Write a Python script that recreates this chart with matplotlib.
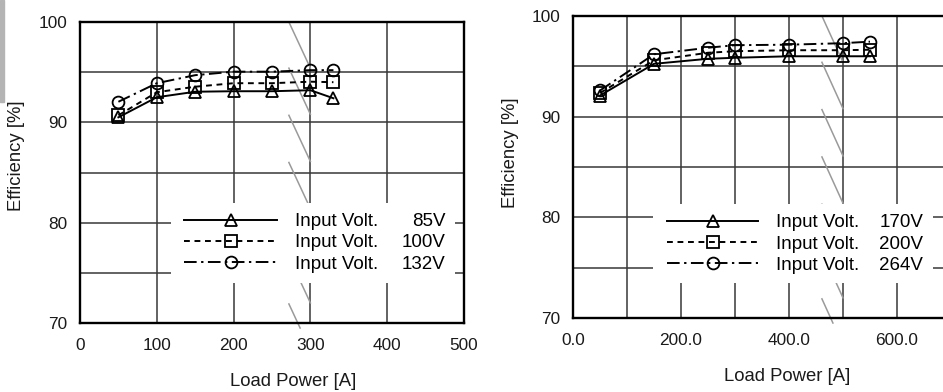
import matplotlib
matplotlib.use("Agg")
import matplotlib.pyplot as plt
from matplotlib.patches import Rectangle
from matplotlib.ticker import MultipleLocator, FormatStrFormatter

plt.rcParams['font.family'] = ['Liberation Sans', 'DejaVu Sans']

# ---------------- data ----------------
left_x = [50, 100, 150, 200, 250, 300, 330]
left_85v = [90.5, 92.5, 93.05, 93.1, 93.1, 93.2, 92.4]
left_100v = [90.7, 93.0, 93.55, 93.9, 93.9, 94.05, 94.0]
left_132v = [92.05, 93.9, 94.7, 95.05, 95.05, 95.2, 95.2]
left_volts = ["85V", "100V", "132V"]

right_x = [50, 150, 250, 300, 400, 500, 550]
right_170v = [92.1, 95.25, 95.75, 95.85, 96.0, 96.0, 96.0]
right_200v = [92.35, 95.6, 96.35, 96.5, 96.6, 96.6, 96.65]
right_264v = [92.6, 96.2, 96.85, 97.1, 97.15, 97.3, 97.45]
right_volts = ["170V", "200V", "264V"]

legend_label = "Input Volt."
y_ticks = [70, 80, 90, 100]
left_xticks = [0, 100, 200, 300, 400, 500]
right_xticks = [0, 200, 400, 600]

# decorative break (zigzag) marks
left_break_x = (272, 300)
right_break_x = (461, 500)
break_tops = [100, 95.4, 90.7, 86.0, 81.3, 76.6, 71.9]
break_drop = 4.6
break_floor = 69.5

styles = [
    dict(ls='-', marker='^'),
    dict(ls=(0, (3.0, 2.4)), marker='s'),
    dict(ls=(0, (6.5, 2.3, 1.2, 2.3)), marker='o'),
]

LEG_FS = 13.5
TICK_FS = 12.4
LAB_FS = 13.3

fig = plt.figure(figsize=(9.43, 3.92), dpi=100)
fig.patches.append(Rectangle((0, 1 - 102 / 392), 4 / 943, 102 / 392,
                             transform=fig.transFigure, color='#b4b4b4', zorder=0))

ax1 = fig.add_axes([80 / 943, (392 - 323) / 392, 384 / 943, 301 / 392])
ax2 = fig.add_axes([573 / 943, (392 - 318) / 392, 378 / 943, 302 / 392])


def setup(ax, xlim, xticks, fmt):
    ax.set_xlim(*xlim)
    ax.set_ylim(70, 100)
    ax.set_xticks(xticks)
    ax.xaxis.set_minor_locator(MultipleLocator(100))
    ax.set_yticks(y_ticks)
    ax.yaxis.set_minor_locator(MultipleLocator(5))
    ax.xaxis.set_major_formatter(FormatStrFormatter(fmt))
    ax.grid(which='both', color='#383838', lw=1.1)
    ax.set_axisbelow(True)
    ax.tick_params(which='both', length=0, labelsize=TICK_FS, colors='#1a1a1a')
    ax.tick_params(axis='x', pad=11)
    ax.tick_params(axis='y', pad=9)
    for s in ax.spines.values():
        s.set_linewidth(1.7)
        s.set_color('black')
    ax.set_ylabel("Efficiency [%]", fontsize=LAB_FS, color='#1a1a1a')
    ax.set_xlabel("Load Power [A]", fontsize=LAB_FS, color='#1a1a1a')


def breaks(ax, bx):
    x0, x1 = bx
    for t in break_tops:
        b = max(t - break_drop, break_floor)
        xe = x0 + (x1 - x0) * (t - b) / break_drop
        ax.plot([x0, xe], [t, b], color='#9a9a9a', lw=1.1, zorder=1, clip_on=False)


def draw(ax, xs, series, anchor, hlen, rect):
    lines = []
    for ys, st in zip(series, styles):
        ln, = ax.plot(xs, ys, color='black', lw=1.4, ls=st['ls'], marker=st['marker'],
                      ms=8.5, mfc='none', mec='black', mew=1.3, zorder=3)
        lines.append(ln)
    ax.add_patch(Rectangle((rect[0], rect[1]), rect[2], rect[3], transform=ax.transAxes,
                           facecolor='white', edgecolor='none', zorder=1.5))
    leg = ax.legend(lines, [legend_label] * 3, loc='center left', bbox_to_anchor=anchor,
                    frameon=False, borderpad=0, borderaxespad=0, handlelength=hlen,
                    handletextpad=0.96, labelspacing=0.22, fontsize=LEG_FS, numpoints=1)
    leg.set_zorder(5)
    return leg


setup(ax1, (0, 500), left_xticks, '%d')
setup(ax2, (0, 700), right_xticks, '%.1f')
breaks(ax1, left_break_x)
breaks(ax2, right_break_x)

leg1 = draw(ax1, left_x, [left_85v, left_100v, left_132v],
            (0.271, 0.266), 4.96, (0.237, 0.133, 0.74, 0.266))
leg2 = draw(ax2, right_x, [right_170v, right_200v, right_264v],
            (0.249, 0.245), 4.85, (0.212, 0.116, 0.74, 0.261))

ax1.xaxis.set_label_coords(0.555, -0.166)
ax2.xaxis.set_label_coords(0.566, -0.166)
ax1.yaxis.set_label_coords(-0.143, 0.555)
ax2.yaxis.set_label_coords(-0.143, 0.548)

fig.canvas.draw()
for ax, leg, volts, vx in [(ax1, leg1, left_volts, 0.951), (ax2, leg2, right_volts, 0.926)]:
    inv = ax.transAxes.inverted()
    for t, v in zip(leg.get_texts(), volts):
        bb = t.get_window_extent()
        yc = inv.transform((0, (bb.y0 + bb.y1) / 2))[1]
        ax.text(vx, yc, v, transform=ax.transAxes, ha='right', va='center',
                fontsize=LEG_FS, color='black', zorder=6)

fig.savefig("out.png", dpi=100)
